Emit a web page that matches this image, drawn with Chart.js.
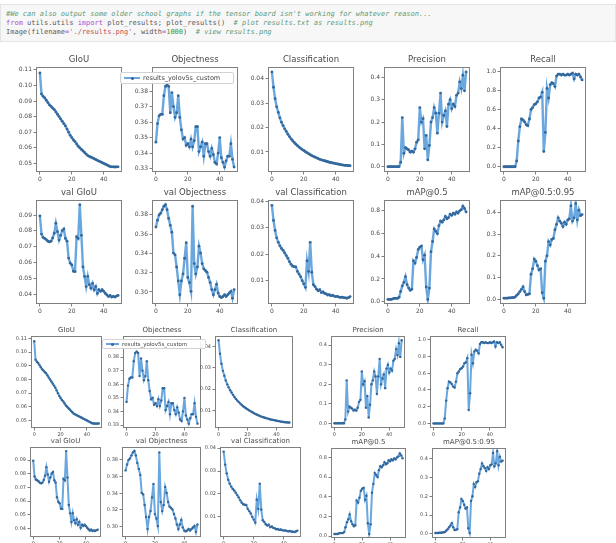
<!DOCTYPE html>
<html>
<head>
<meta charset="utf-8">
<script src="https://cdn.jsdelivr.net/npm/chart.js@4.4.1/dist/chart.umd.min.js"></script>
<style>
  body { margin: 0; background: #fff; width: 616px; height: 543px; overflow: hidden; position: relative; font-family: "DejaVu Sans", sans-serif; }
  .cell { position: absolute; left: 0; top: 4px; width: 614px; height: 36px; background: #f7f7f7; border: 1px solid #e4e4e4; }
  .code { position: absolute; left: 5px; font: 7px "DejaVu Sans Mono", monospace; white-space: pre; color: #5a5a5a; }
  .cm { color: #5a9a7a; font-style: italic; }
  .kw { color: #b04ad8; }
  .st { color: #c25050; }
  .nu { color: #3a9a3a; }
  canvas { position: absolute; }
  .legend { position: absolute; background: rgba(255,255,255,0.9); border: 1px solid #d2d2d2; border-radius: 2px; color: #444; white-space: nowrap; z-index: 5; display: flex; align-items: center; }
  .legend .sw { position: relative; display: inline-block; height: 2px; background: #6aa5dc; margin: 0 3px 0 3px; }
  .legend .sw i { position: absolute; left: 50%; top: -0.5px; width: 3px; height: 3px; margin-left: -1.5px; border-radius: 50%; background: #34679a; }
</style>
</head>
<body>
<div class="cell">
  <div class="code" style="top:5px"><span class="cm">#We can also output some older school graphs if the tensor board isn't working for whatever reason...</span></div>
  <div class="code" style="top:14px"><span class="kw">from</span> utils.utils <span class="kw">import</span> plot_results; plot_results()  <span class="cm"># plot results.txt as results.png</span></div>
  <div class="code" style="top:23px">Image(filename<span class="kw">=</span><span class="st">'./results.png'</span>, width<span class="kw">=</span><span class="nu">1000</span>)  <span class="cm"># view results.png</span></div>
</div>
<script>
// results.txt columns, one value per epoch (0..49)
const runName = 'results_yolov5s_custom';
const titles = ['GIoU', 'Objectness', 'Classification', 'Precision', 'Recall',
                'val GIoU', 'val Objectness', 'val Classification', 'mAP@0.5', 'mAP@0.5:0.95'];

const giou = [0.108, 0.0945, 0.093, 0.092, 0.0905, 0.089, 0.0875, 0.0865, 0.0855, 0.0845,
  0.083, 0.0815, 0.080, 0.0785, 0.077, 0.0755, 0.074, 0.072, 0.070, 0.068,
  0.0665, 0.065, 0.064, 0.0625, 0.061, 0.060, 0.059, 0.058, 0.057, 0.056,
  0.055, 0.0545, 0.054, 0.0535, 0.053, 0.0525, 0.052, 0.0515, 0.051, 0.0505,
  0.050, 0.0495, 0.049, 0.0485, 0.048, 0.0478, 0.0478, 0.0477, 0.0478, 0.0478];
const objectness = [0.347, 0.359, 0.364, 0.365, 0.365, 0.377, 0.383, 0.384, 0.383, 0.366,
  0.379, 0.370, 0.363, 0.366, 0.377, 0.363, 0.355, 0.349, 0.350, 0.345,
  0.346, 0.344, 0.349, 0.344, 0.348, 0.357, 0.357, 0.341, 0.344, 0.347,
  0.338, 0.346, 0.346, 0.341, 0.338, 0.343, 0.339, 0.334, 0.333, 0.340,
  0.350, 0.337, 0.334, 0.331, 0.335, 0.338, 0.338, 0.346, 0.336, 0.331];
const classification = [0.0428, 0.0365, 0.0318, 0.0285, 0.0262, 0.0240, 0.0222, 0.0208, 0.0195, 0.0184,
  0.0173, 0.0163, 0.0154, 0.0146, 0.0139, 0.0132, 0.0126, 0.0120, 0.0115, 0.0110,
  0.0106, 0.0101, 0.0097, 0.0093, 0.0089, 0.0085, 0.0082, 0.0079, 0.0076, 0.0073,
  0.0070, 0.0068, 0.0066, 0.0064, 0.0062, 0.0060, 0.0058, 0.0057, 0.0055, 0.0054,
  0.0052, 0.0051, 0.0050, 0.0048, 0.0047, 0.0046, 0.0045, 0.0045, 0.0044, 0.0044];
const precision = [0, 0, 0, 0, 0, 0, 0, 0, 0.02, 0.22,
  0.06, 0.085, 0.08, 0.075, 0.065, 0.07, 0.065, 0.08, 0.11, 0.12,
  0.265, 0.2, 0.215, 0.08, 0.14, 0.03, 0.095, 0.2, 0.22, 0.265,
  0.24, 0.15, 0.24, 0.33, 0.2, 0.23, 0.25, 0.18, 0.28, 0.3,
  0.26, 0.28, 0.27, 0.32, 0.33, 0.38, 0.35, 0.41, 0.34, 0.425];
const recall = [0, 0, 0, 0, 0, 0, 0, 0, 0.06, 0.27,
  0.42, 0.5, 0.49, 0.47, 0.44, 0.43, 0.5, 0.6, 0.62, 0.65,
  0.66, 0.68, 0.72, 0.73, 0.78, 0.16, 0.36, 0.82, 0.72, 0.86,
  0.88, 0.87, 0.84, 0.95, 0.97, 0.97, 0.96, 0.97, 0.96, 0.96,
  0.97, 0.96, 0.97, 0.98, 0.92, 0.97, 0.96, 0.97, 0.94, 0.91];
const valGiou = [0.0895, 0.078, 0.0758, 0.0752, 0.0745, 0.0735, 0.073, 0.0735, 0.0755, 0.0785,
  0.0848, 0.0795, 0.0742, 0.0772, 0.0802, 0.0812, 0.0752, 0.0735, 0.0628, 0.0596,
  0.0585, 0.0545, 0.0543, 0.0762, 0.0752, 0.0965, 0.0772, 0.0572, 0.0512, 0.0448,
  0.0512, 0.046, 0.0438, 0.0468, 0.0428, 0.0448, 0.0405, 0.0428, 0.0418, 0.0428,
  0.0418, 0.0405, 0.0395, 0.0385, 0.0392, 0.0382, 0.0386, 0.0382, 0.0388, 0.0392];
const valObjectness = [0.3674, 0.3746, 0.380, 0.3818, 0.3854, 0.389, 0.3908, 0.3854, 0.3764, 0.3692,
  0.362, 0.3404, 0.3386, 0.3259, 0.3115, 0.2971, 0.3115, 0.3187, 0.335, 0.3512,
  0.315, 0.3097, 0.3007, 0.389, 0.3295, 0.3187, 0.326, 0.3476, 0.3404, 0.3295,
  0.324, 0.3223, 0.3205, 0.3151, 0.3097, 0.3025, 0.2971, 0.3025, 0.3079, 0.2989,
  0.2953, 0.2942, 0.2953, 0.2971, 0.2953, 0.2971, 0.2989, 0.3007, 0.2935, 0.3025];
const valClassification = [0.0385, 0.0328, 0.0290, 0.0262, 0.0245, 0.0232, 0.0222, 0.0215, 0.0205, 0.0195,
  0.0185, 0.0172, 0.0162, 0.0155, 0.0153, 0.0152, 0.0135, 0.0125, 0.0115, 0.0100,
  0.0088, 0.0075, 0.0175, 0.0135, 0.0245, 0.0132, 0.0085, 0.0078, 0.0068, 0.0062,
  0.0066, 0.0055, 0.0058, 0.0052, 0.0050, 0.0046, 0.0047, 0.0043, 0.0045, 0.0042,
  0.0040, 0.0041, 0.0038, 0.0037, 0.0038, 0.0036, 0.0035, 0.0034, 0.0036, 0.0040];
const map50 = [0.02, 0.02, 0.02, 0.025, 0.03, 0.03, 0.03, 0.04, 0.09, 0.14,
  0.17, 0.22, 0.15, 0.12, 0.10, 0.11, 0.36, 0.34, 0.39, 0.46,
  0.48, 0.49, 0.37, 0.41, 0.13, 0.02, 0.12, 0.44, 0.53, 0.64,
  0.62, 0.60, 0.67, 0.71, 0.70, 0.72, 0.75, 0.73, 0.74, 0.77,
  0.76, 0.78, 0.77, 0.79, 0.78, 0.80, 0.81, 0.84, 0.82, 0.79];
const map5095 = [0.005, 0.005, 0.005, 0.006, 0.006, 0.007, 0.008, 0.010, 0.018, 0.025,
  0.035, 0.045, 0.057, 0.035, 0.020, 0.022, 0.025, 0.115, 0.140, 0.185,
  0.175, 0.155, 0.135, 0.140, 0.030, 0.005, 0.175, 0.200, 0.265, 0.250,
  0.275, 0.280, 0.320, 0.345, 0.375, 0.360, 0.350, 0.335, 0.355, 0.345,
  0.365, 0.370, 0.430, 0.360, 0.375, 0.440, 0.365, 0.410, 0.385, 0.390];

// tick labels
const xTicks = ['0', '20', '40'];
const giouTicks = ['0.05', '0.06', '0.07', '0.08', '0.09', '0.10', '0.11'];
const objTicks = ['0.33', '0.34', '0.35', '0.36', '0.37', '0.38'];
const clsTicks = ['0.01', '0.02', '0.03', '0.04'];
const precTicks = ['0.0', '0.1', '0.2', '0.3', '0.4'];
const recallTicks = ['0.0', '0.2', '0.4', '0.6', '0.8', '1.0'];
const valGiouTicks = ['0.04', '0.05', '0.06', '0.07', '0.08', '0.09'];
const valObjTicks = ['0.30', '0.32', '0.34', '0.36', '0.38'];
const valClsTicks = ['0.01', '0.02', '0.03', '0.04'];
const map50Ticks = ['0.0', '0.2', '0.4', '0.6', '0.8'];
const map5095Ticks = ['0.0', '0.1', '0.2', '0.3', '0.4'];

const series = [giou, objectness, classification, precision, recall,
                valGiou, valObjectness, valClassification, map50, map5095];
const yTicks = [giouTicks, objTicks, clsTicks, precTicks, recallTicks,
                valGiouTicks, valObjTicks, valClsTicks, map50Ticks, map5095Ticks];
const yRanges = [[0.0445, 0.1118], [0.3278, 0.3955], [0.0018, 0.0448], [-0.024, 0.447], [-0.055, 1.045],
                 [0.0338, 0.0995], [0.2875, 0.3955], [0.0012, 0.0405], [-0.02, 0.895], [-0.022, 0.457]];

const textColor = '#4a4a4a';
const axisColor = '#808080';

// box outline + subplot title
const framePlugin = {
  id: 'panelFrame',
  afterDraw(chart, args, opts) {
    const { ctx, chartArea: a } = chart;
    ctx.save();
    ctx.strokeStyle = axisColor;
    ctx.lineWidth = 1;
    ctx.strokeRect(Math.round(a.left) + 0.5, Math.round(a.top) + 0.5,
                   Math.round(a.right - a.left) - 1, Math.round(a.bottom - a.top) - 1);
    ctx.fillStyle = textColor;
    ctx.font = opts.size + 'px "DejaVu Sans", sans-serif';
    ctx.textAlign = 'center';
    ctx.textBaseline = 'bottom';
    ctx.fillText(opts.title, (a.left + a.right) / 2, a.top - opts.gap);
    ctx.restore();
  }
};

function makePanel(i, box, sz) {
  const [bx, by, bw, bh] = box;
  const L = sz.left, T = sz.top, B = sz.bottom, R = 3;
  const cv = document.createElement('canvas');
  cv.width = bw + L + R;
  cv.height = bh + T + B;
  cv.style.left = (bx - L) + 'px';
  cv.style.top = (by - T) + 'px';
  document.body.appendChild(cv);

  const ticks = yTicks[i];
  new Chart(cv, {
    type: 'line',
    data: {
      datasets: [{
        label: runName,
        data: series[i].map((v, k) => ({ x: k, y: v })),
        borderColor: 'rgba(98,162,220,0.95)',
        borderWidth: sz.line,
        pointRadius: sz.dot,
        pointBackgroundColor: '#34679a',
        pointBorderWidth: 0,
        tension: 0
      }]
    },
    options: {
      responsive: false,
      animation: false,
      devicePixelRatio: 1,
      layout: { padding: { top: T, right: R, left: 0, bottom: 0 } },
      plugins: {
        legend: { display: false },
        tooltip: { enabled: false },
        panelFrame: { title: titles[i], size: sz.title, gap: sz.gap }
      },
      scales: {
        x: {
          type: 'linear', bounds: 'data', min: -2.45, max: 51.45,
          afterBuildTicks: s => { s.ticks = xTicks.map(t => ({ value: +t })); },
          afterFit: s => { s.height = B; },
          grid: { drawOnChartArea: false, drawTicks: true, tickLength: 2.5, color: axisColor },
          border: { display: false },
          ticks: { autoSkip: false, maxRotation: 0, padding: 1, color: textColor,
                   font: { size: sz.tick, family: 'DejaVu Sans' }, callback: (v, k) => xTicks[k] }
        },
        y: {
          type: 'linear', bounds: 'data', min: yRanges[i][0], max: yRanges[i][1],
          afterBuildTicks: s => { s.ticks = ticks.map(t => ({ value: parseFloat(t) })); },
          afterFit: s => { s.width = L; },
          grid: { drawOnChartArea: false, drawTicks: true, tickLength: 2.5, color: axisColor },
          border: { display: false },
          ticks: { autoSkip: false, padding: 1.5, color: textColor,
                   font: { size: sz.tick, family: 'DejaVu Sans' }, callback: (v, k) => ticks[k] }
        }
      }
    },
    plugins: [framePlugin]
  });
}

function addLegend(x, y, w, h, fs, sw) {
  const d = document.createElement('div');
  d.className = 'legend';
  d.style.cssText = `left:${x}px;top:${y}px;width:${w}px;height:${h}px;font-size:${fs}px;`;
  d.innerHTML = `<span class="sw" style="width:${sw}px"><i></i></span>${runName}`;
  document.body.appendChild(d);
}

// upper copy: evenly spaced 2x5 grid
const bigSize = { left: 26, top: 14, bottom: 12, title: 8.5, tick: 6, gap: 2.5, line: 2.4, dot: 1.4 };
const bigCols = [36, 152, 268, 384, 500];
const bigRows = [[67, 105], [200, 104]];
for (let i = 0; i < 10; i++) {
  const r = bigRows[Math.floor(i / 5)];
  makePanel(i, [bigCols[i % 5], r[0], 87, r[1]], bigSize);
}
addLegend(120, 72, 112, 10, 6.5, 16);

// lower copy: smaller, unevenly spaced grid
const smallSize = { left: 22, top: 12, bottom: 10, title: 7, tick: 5, gap: 2, line: 2, dot: 1.2 };
const smallBoxes = [
  [31, 336, 72, 92], [123, 336, 79, 92], [215, 336, 79, 92], [331, 336, 75, 92], [430, 336, 77, 92],
  [30, 447, 72, 90], [122, 447, 80, 90], [220, 447, 82, 90], [331, 448, 76, 90], [432, 448, 75, 90]
];
smallBoxes.forEach((b, i) => makePanel(i, b, smallSize));
addLegend(102, 339, 102, 8, 5.5, 13);
</script>
</body>
</html>
